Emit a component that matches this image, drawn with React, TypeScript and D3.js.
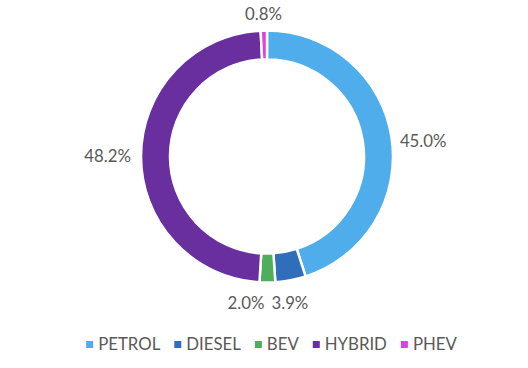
import React from "react";
import * as d3 from "d3";

const categories = ["PETROL", "DIESEL", "BEV", "HYBRID", "PHEV"];
const shares = [45.0, 3.9, 2.0, 48.2, 0.8];
const colors = ["#4EADEA", "#2F6EBA", "#4EAE5B", "#6A2F9F", "#E040D8"];
// small manual label nudges (px), per slice, like hand-placed Excel labels
const labelNudge: [number, number][] = [[1, 9], [-4, 5.5], [-5, 7], [-3, 0.5], [0, -2]];

const W = 528;
const H = 368;
const FONT = "Lato, 'Open Sans', sans-serif";
const FS = 16.8;
const TEXT = "#595959";

function measure(text: string, size = FS): number {
  const c = document.createElement("canvas").getContext("2d");
  if (!c) return text.length * size * 0.55;
  c.font = `${size}px Lato`;
  return c.measureText(text).width;
}

export default function App() {
  const cx = 267;
  const cy = 156.5;
  const outer = 126;
  const inner = 97;

  const data = categories.map((c, i) => ({ cat: c, value: shares[i], color: colors[i] }));
  const pie = d3.pie<any>().value((d) => d.value).sort(null).startAngle(0).endAngle(2 * Math.PI);
  const arcs = pie(data);
  const arcGen = d3.arc<any>().innerRadius(inner).outerRadius(outer);

  // labels
  const gap = 7;
  const halfH = 7;
  const labels = arcs.map((a) => {
    const mid = (a.startAngle + a.endAngle) / 2;
    const text = `${a.data.value.toFixed(1)}%`;
    const w = measure(text);
    const s = Math.sin(mid);
    const c = -Math.cos(mid);
    const dist = outer + gap + (w / 2) * Math.abs(s) + halfH * Math.abs(c);
    return { text, w, x: cx + dist * s, y: cy + dist * c };
  });
  // simple overlap resolution
  for (let i = 0; i < labels.length; i++) {
    for (let j = 0; j < i; j++) {
      const a = labels[i];
      const b = labels[j];
      const overlapX = a.w / 2 + b.w / 2 + 6 - Math.abs(a.x - b.x);
      const overlapY = 2 * halfH - Math.abs(a.y - b.y);
      if (overlapX > 0 && overlapY > 0) {
        if (a.x <= b.x) a.x -= overlapX;
        else a.x += overlapX;
      }
    }
  }
  labels.forEach((l, i) => {
    l.x += labelNudge[i][0];
    l.y += labelNudge[i][1];
  });

  // legend layout
  const sq = 7;
  const sqGap = 5;
  const itemGap = 14;
  const widths = categories.map((c) => measure(c));
  const total = widths.reduce((s, w) => s + sq + sqGap + w, 0) + itemGap * (categories.length - 1);
  let lx = 271.5 - total / 2;
  const legendY = 344.5;
  const legend = categories.map((c, i) => {
    const item = { cat: c, color: colors[i], x: lx };
    lx += sq + sqGap + widths[i] + itemGap;
    return item;
  });

  return (
    <svg width={W} height={H} style={{ position: "absolute", left: 0, top: 0, background: "#fff" }}>
      <g transform={`translate(${cx},${cy})`}>
        {arcs.map((a, i) => (
          <path key={i} d={arcGen(a) || ""} fill={a.data.color} stroke="#fff" strokeWidth={2.5} />
        ))}
      </g>
      {labels.map((l, i) => (
        <text
          key={i}
          x={l.x}
          y={l.y}
          dy="0.35em"
          textAnchor="middle"
          fontFamily={FONT}
          fontSize={FS}
          fill={TEXT}
        >
          {l.text}
        </text>
      ))}
      {legend.map((it, i) => (
        <g key={i}>
          <rect x={it.x} y={legendY - sq / 2} width={sq} height={sq} fill={it.color} />
          <text
            x={it.x + sq + sqGap}
            y={legendY}
            dy="0.35em"
            fontFamily={FONT}
            fontSize={FS}
            fill={TEXT}
          >
            {it.cat}
          </text>
        </g>
      ))}
    </svg>
  );
}
